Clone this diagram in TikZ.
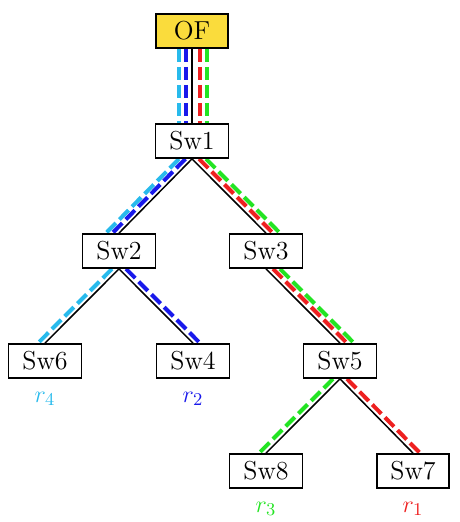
\documentclass[tikz,border=0pt]{standalone}
\usetikzlibrary{calc}
\definecolor{cyanc}{RGB}{40,186,236}
\definecolor{bluec}{RGB}{25,25,235}
\definecolor{redc}{RGB}{238,32,32}
\definecolor{greenc}{RGB}{35,228,35}
\definecolor{yellowc}{RGB}{250,220,60}
\newcommand\offedge[4]{\draw[#1] ([xshift=#4]#2.south) -- ([xshift=#4]#3.north);}
\begin{document}
\begin{tikzpicture}[x=0.5pt,y=-0.5pt,
  sw/.style={draw,line width=0.9pt,fill=white,minimum width=36.5pt,minimum height=17pt,inner sep=0pt,font=\fontsize{13}{15}\selectfont},
  link/.style={line width=0.75pt,black},
  route/.style={line width=2pt,dash pattern=on 6.5pt off 2.5pt},
  lbl/.style={inner sep=0pt,font=\fontsize{13}{15}\selectfont}]
\useasboundingbox (0,0) rectangle (459,522);
\node[sw,fill=yellowc,minimum width=36pt] (of) at (192,31) {OF};
\node[sw] (s1) at (192,141) {Sw1};
\node[sw] (s2) at (119,251) {Sw2};
\node[sw] (s3) at (266,251) {Sw3};
\node[sw] (s6) at (45,361) {Sw6};
\node[sw] (s4) at (193,361) {Sw4};
\node[sw] (s5) at (340,361) {Sw5};
\node[sw] (s8) at (266,471) {Sw8};
\node[sw,minimum width=36pt] (s7) at (413,471) {Sw7};
\node[lbl,text=cyanc] (r4) at (45,399) {$r_4$};
\node[lbl,text=bluec] (r2) at (193,399) {$r_2$};
\node[lbl,text=greenc] (r3) at (266,509) {$r_3$};
\node[lbl,text=redc] (r1) at (413,509) {$r_1$};
% routes
\offedge{route,cyanc}{of}{s1}{-6.5pt}
\offedge{route,bluec}{of}{s1}{-3.1pt}
\offedge{route,redc}{of}{s1}{3.8pt}
\offedge{route,greenc}{of}{s1}{7.5pt}
\offedge{route,cyanc}{s1}{s2}{-6.5pt}
\offedge{route,bluec}{s1}{s2}{-3.3pt}
\offedge{route,redc}{s1}{s3}{3.5pt}
\offedge{route,greenc}{s1}{s3}{7pt}
\offedge{route,cyanc}{s2}{s6}{-3.5pt}
\offedge{route,bluec}{s2}{s4}{3.5pt}
\offedge{route,redc}{s3}{s5}{3.5pt}
\offedge{route,greenc}{s3}{s5}{7pt}
\offedge{route,greenc}{s5}{s8}{-3.5pt}
\offedge{route,redc}{s5}{s7}{3.5pt}
% links
\draw[link] (of.south) -- (s1.north);
\draw[link] (s1.south) -- (s2.north);
\draw[link] (s1.south) -- (s3.north);
\draw[link] (s2.south) -- (s6.north);
\draw[link] (s2.south) -- (s4.north);
\draw[link] (s3.south) -- (s5.north);
\draw[link] (s5.south) -- (s8.north);
\draw[link] (s5.south) -- (s7.north);
% boxes on top
\node[sw,fill=yellowc,minimum width=36pt] at (of) {OF};
\node[sw] at (s1) {Sw1};
\node[sw] at (s2) {Sw2};
\node[sw] at (s3) {Sw3};
\node[sw] at (s6) {Sw6};
\node[sw] at (s4) {Sw4};
\node[sw] at (s5) {Sw5};
\node[sw] at (s8) {Sw8};
\node[sw,minimum width=36pt] at (s7) {Sw7};
\end{tikzpicture}
\end{document}
